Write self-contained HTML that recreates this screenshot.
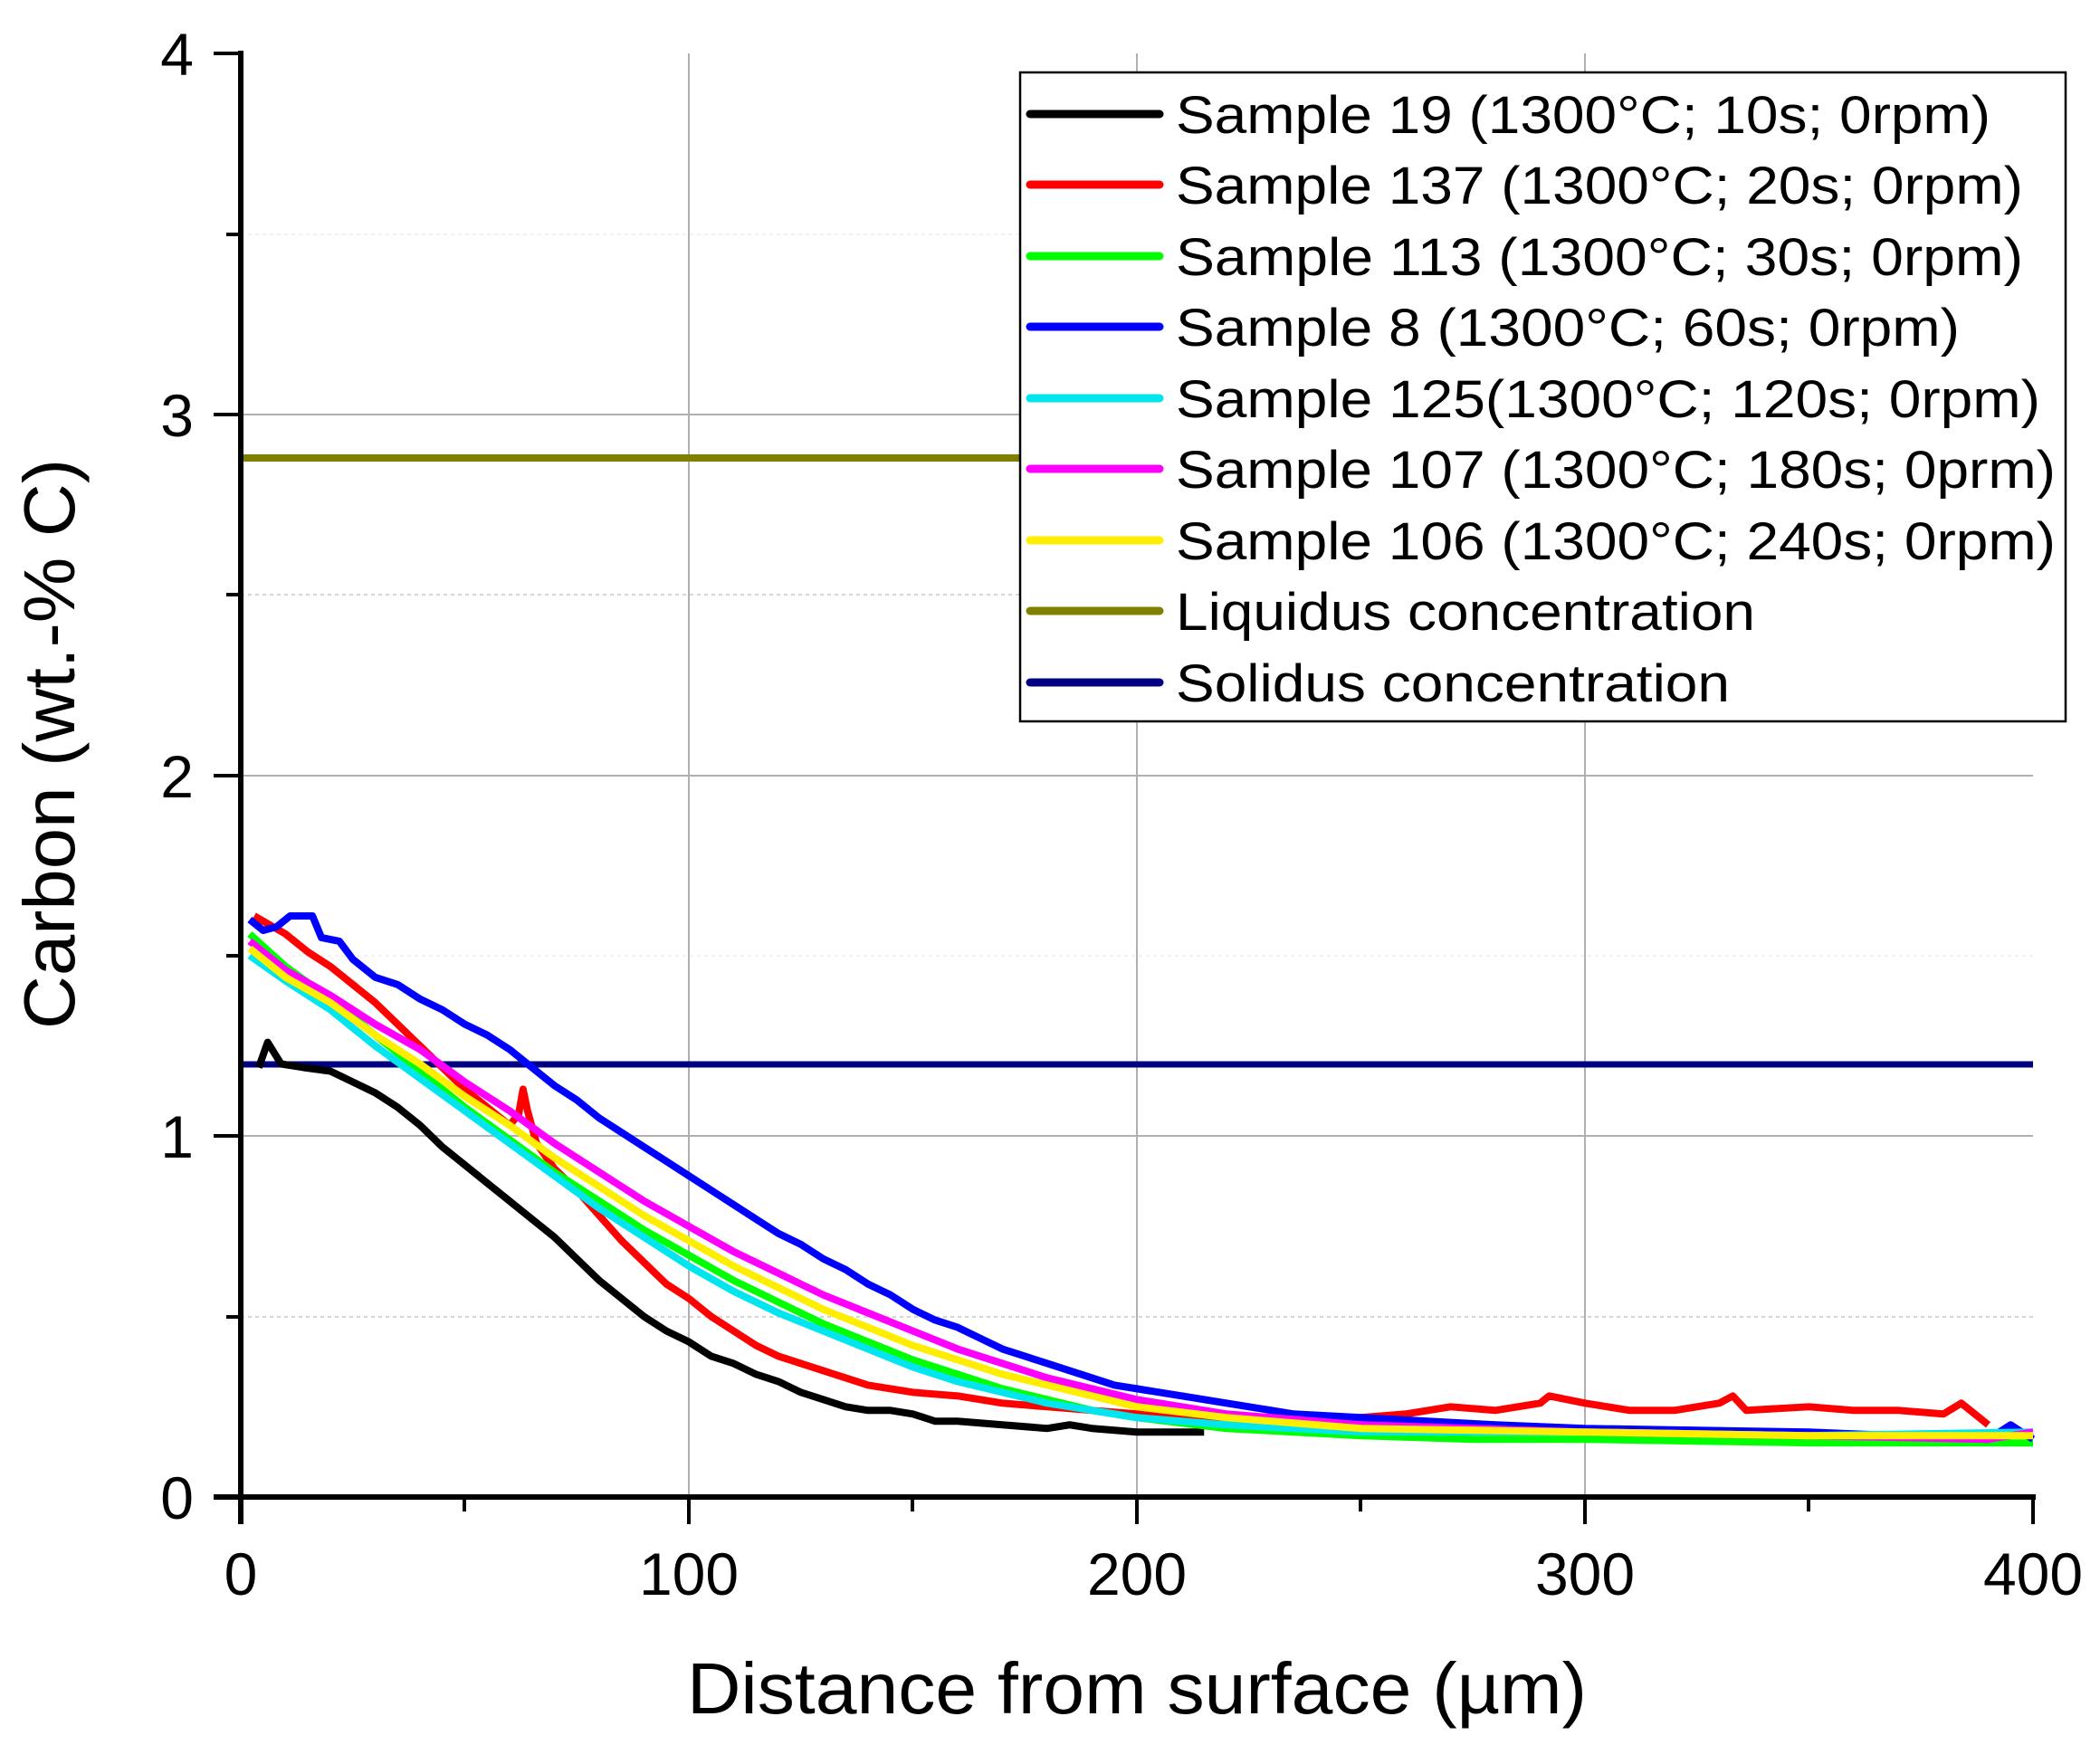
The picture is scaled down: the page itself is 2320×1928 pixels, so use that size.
<!DOCTYPE html>
<html><head><meta charset="utf-8"><style>
html,body{margin:0;padding:0;background:#fff;}
svg{display:block;font-family:"Liberation Sans",Arial,sans-serif;}
</style></head><body>
<svg width="2320" height="1928" viewBox="0 0 2320 1928" xmlns="http://www.w3.org/2000/svg">
<rect width="2320" height="1928" fill="#fff"/>
<g stroke="#b0b0b0" stroke-width="2">
<line x1="761" y1="59" x2="761" y2="1654"/>
<line x1="1256" y1="59" x2="1256" y2="1654"/>
<line x1="1751" y1="59" x2="1751" y2="1654"/>
<line x1="266" y1="1255" x2="2246" y2="1255"/>
<line x1="266" y1="857" x2="2246" y2="857"/>
<line x1="266" y1="458" x2="2246" y2="458"/>
</g>
<g stroke="#c8c8c8" stroke-width="1.5" stroke-dasharray="4,4">
<line x1="266" y1="1455" x2="2246" y2="1455"/>
<line x1="266" y1="657" x2="2246" y2="657"/>
<line x1="266" y1="1056" x2="2246" y2="1056" stroke="#eee"/>
<line x1="266" y1="259" x2="2246" y2="259" stroke="#eee"/>
</g>
<line x1="266" y1="506" x2="1127" y2="506" stroke="#808000" stroke-width="8"/>
<line x1="266" y1="1176" x2="2246" y2="1176" stroke="#000080" stroke-width="7"/>
<g transform="translate(266,1654) scale(4.95,-398.75)" fill="none" stroke-linejoin="round">
<g stroke-width="8">
<polyline vector-effect="non-scaling-stroke" stroke="#000" points="4,1.19 6,1.26 9,1.2 14,1.19 20,1.18 25,1.15 30,1.12 35,1.08 40,1.03 45,0.97 50,0.92 55,0.87 60,0.82 65,0.77 70,0.72 75,0.66 80,0.6 85,0.55 90,0.5 95,0.46 100,0.43 105,0.39 110,0.37 115,0.34 120,0.32 125,0.29 130,0.27 135,0.25 140,0.24 145,0.24 150,0.23 155,0.21 160,0.21 170,0.2 180,0.19 185,0.2 190,0.19 200,0.18 208,0.18 215,0.18"/>
<polyline vector-effect="non-scaling-stroke" stroke="#ff0000" points="3,1.61 10,1.56 15,1.51 20,1.47 25,1.42 30,1.37 35,1.31 40,1.25 45,1.19 50,1.13 55,1.08 60,1.03 62,1.06 63,1.13 64,1.07 66,0.98 70,0.91 75,0.85 80,0.78 85,0.71 90,0.65 95,0.59 100,0.55 105,0.5 110,0.46 115,0.42 120,0.39 125,0.37 130,0.35 140,0.31 150,0.29 160,0.28 170,0.26 180,0.25 190,0.24 200,0.23 220,0.22 250,0.22 260,0.23 270,0.25 280,0.24 290,0.26 292,0.28 300,0.26 310,0.24 320,0.24 330,0.26 333,0.28 336,0.24 350,0.25 360,0.24 370,0.24 380,0.23 384,0.26 388,0.22 390,0.2"/>
<polyline vector-effect="non-scaling-stroke" stroke="#00ff00" points="2,1.56 10,1.47 20,1.38 30,1.28 40,1.18 50,1.08 60,0.99 70,0.9 80,0.82 90,0.74 100,0.67 110,0.6 120,0.54 130,0.48 140,0.43 150,0.38 160,0.34 170,0.3 180,0.27 190,0.24 200,0.22 220,0.19 250,0.17 275,0.16 300,0.16 350,0.15 400,0.15"/>
<polyline vector-effect="non-scaling-stroke" stroke="#0000ff" points="2,1.6 5,1.57 8,1.58 11,1.61 16,1.61 18,1.55 22,1.54 25,1.49 30,1.44 35,1.42 40,1.38 45,1.35 50,1.31 55,1.28 60,1.24 65,1.19 70,1.14 75,1.1 80,1.05 85,1.01 90,0.97 95,0.93 100,0.89 105,0.85 110,0.81 115,0.77 120,0.73 125,0.7 130,0.66 135,0.63 140,0.59 145,0.56 150,0.52 155,0.49 160,0.47 165,0.44 170,0.41 175,0.39 180,0.37 185,0.35 190,0.33 195,0.31 200,0.3 210,0.28 220,0.26 235,0.23 250,0.22 280,0.2 300,0.19 350,0.18 390,0.16 395,0.2 400,0.16"/>
<polyline vector-effect="non-scaling-stroke" stroke="#00e5ee" points="2,1.5 10,1.43 20,1.35 30,1.25 40,1.16 50,1.07 60,0.98 70,0.89 80,0.8 90,0.72 100,0.64 110,0.57 120,0.51 130,0.46 140,0.41 150,0.36 160,0.32 170,0.29 180,0.26 190,0.24 200,0.22 220,0.2 250,0.18 300,0.18 350,0.17 400,0.18"/>
<polyline vector-effect="non-scaling-stroke" stroke="#ff00ff" points="2,1.54 10,1.46 20,1.39 30,1.31 40,1.24 50,1.15 60,1.07 70,0.98 80,0.9 90,0.82 100,0.75 110,0.68 120,0.62 130,0.56 140,0.51 150,0.46 160,0.41 170,0.37 180,0.33 190,0.3 200,0.27 220,0.23 250,0.2 300,0.18 350,0.17 390,0.16 400,0.18"/>
<polyline vector-effect="non-scaling-stroke" stroke="#ffee00" points="2,1.52 10,1.44 20,1.37 30,1.28 40,1.2 50,1.11 60,1.03 70,0.94 80,0.86 90,0.78 100,0.71 110,0.64 120,0.58 130,0.52 140,0.47 150,0.42 160,0.38 170,0.34 180,0.31 190,0.28 200,0.25 220,0.22 250,0.19 300,0.18 350,0.17 400,0.17"/>
</g>
</g>
<g stroke="#000" stroke-width="6">
<line x1="266" y1="56" x2="266" y2="1684"/>
<line x1="236" y1="1654" x2="2249" y2="1654"/>
</g>
<g stroke="#000" stroke-width="4">
<line x1="761" y1="1654" x2="761" y2="1684"/>
<line x1="1256" y1="1654" x2="1256" y2="1684"/>
<line x1="1751" y1="1654" x2="1751" y2="1684"/>
<line x1="2246" y1="1654" x2="2246" y2="1684"/>
<line x1="513" y1="1654" x2="513" y2="1670"/>
<line x1="1008" y1="1654" x2="1008" y2="1670"/>
<line x1="1503" y1="1654" x2="1503" y2="1670"/>
<line x1="1998" y1="1654" x2="1998" y2="1670"/>
<line x1="236" y1="1255" x2="266" y2="1255"/>
<line x1="236" y1="857" x2="266" y2="857"/>
<line x1="236" y1="458" x2="266" y2="458"/>
<line x1="236" y1="59" x2="266" y2="59"/>
<line x1="250" y1="1455" x2="266" y2="1455"/>
<line x1="250" y1="1056" x2="266" y2="1056"/>
<line x1="250" y1="657" x2="266" y2="657"/>
<line x1="250" y1="259" x2="266" y2="259"/>
</g>
<g font-size="66" fill="#000" text-anchor="end">
<text x="214" y="1678">0</text>
<text x="214" y="1279">1</text>
<text x="214" y="881">2</text>
<text x="214" y="482">3</text>
<text x="214" y="83">4</text>
</g>
<g font-size="66" fill="#000" text-anchor="middle">
<text x="266" y="1762">0</text>
<text x="761" y="1762">100</text>
<text x="1256" y="1762">200</text>
<text x="1751" y="1762">300</text>
<text x="2246" y="1762">400</text>
</g>
<text x="1256" y="1893" font-size="80" text-anchor="middle" fill="#000" textLength="994" lengthAdjust="spacingAndGlyphs">Distance from surface (µm)</text>
<text transform="translate(82,822) rotate(-90)" font-size="80" text-anchor="middle" fill="#000" textLength="630" lengthAdjust="spacingAndGlyphs">Carbon (wt.-% C)</text>
<rect x="1127" y="80" width="1155" height="717" fill="#fff" stroke="#000" stroke-width="2.5"/>
<g stroke-width="9" stroke-linecap="round">
<line x1="1138" y1="126" x2="1281" y2="126" stroke="#000"/>
<line x1="1138" y1="204" x2="1281" y2="204" stroke="#ff0000"/>
<line x1="1138" y1="283" x2="1281" y2="283" stroke="#00ff00"/>
<line x1="1138" y1="361" x2="1281" y2="361" stroke="#0000ff"/>
<line x1="1138" y1="440" x2="1281" y2="440" stroke="#00e5ee"/>
<line x1="1138" y1="518" x2="1281" y2="518" stroke="#ff00ff"/>
<line x1="1138" y1="597" x2="1281" y2="597" stroke="#ffee00"/>
<line x1="1138" y1="675" x2="1281" y2="675" stroke="#808000"/>
<line x1="1138" y1="754" x2="1281" y2="754" stroke="#000080"/>
</g>
<g font-size="58" fill="#000">
<text x="1299" y="147" textLength="900" lengthAdjust="spacingAndGlyphs">Sample 19 (1300°C; 10s; 0rpm)</text>
<text x="1299" y="225" textLength="936" lengthAdjust="spacingAndGlyphs">Sample 137 (1300°C; 20s; 0rpm)</text>
<text x="1299" y="304" textLength="936" lengthAdjust="spacingAndGlyphs">Sample 113 (1300°C; 30s; 0rpm)</text>
<text x="1299" y="382" textLength="866" lengthAdjust="spacingAndGlyphs">Sample 8 (1300°C; 60s; 0rpm)</text>
<text x="1299" y="461" textLength="955" lengthAdjust="spacingAndGlyphs">Sample 125(1300°C; 120s; 0rpm)</text>
<text x="1299" y="539" textLength="972" lengthAdjust="spacingAndGlyphs">Sample 107 (1300°C; 180s; 0prm)</text>
<text x="1299" y="618" textLength="972" lengthAdjust="spacingAndGlyphs">Sample 106 (1300°C; 240s; 0rpm)</text>
<text x="1299" y="696" textLength="640" lengthAdjust="spacingAndGlyphs">Liquidus concentration</text>
<text x="1299" y="775" textLength="612" lengthAdjust="spacingAndGlyphs">Solidus concentration</text>
</g>
</svg>
</body></html>
